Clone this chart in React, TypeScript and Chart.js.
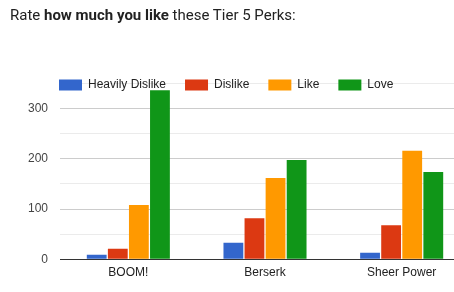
import React, { useEffect, useRef } from "react";
import { Chart, registerables } from "chart.js";

Chart.register(...registerables);

const categories = ["BOOM!", "Berserk", "Sheer Power"];
const seriesNames = ["Heavily Dislike", "Dislike", "Like", "Love"];
const heavilyDislike = [9, 33, 13];
const dislike = [21, 82, 68];
const like = [108, 162, 216];
const love = [337, 198, 174];
const seriesColors = ["#3366cc", "#dc3912", "#ff9900", "#109618"];
const yMax = 350;
const yStep = 50;
const labelStep = 100;

const FONT_FAMILY = "Arial, 'Liberation Sans', sans-serif";

const legendPlugin = {
  id: "gLegend",
  afterDraw(chart: any, _args: any, opts: any) {
    const ctx = chart.ctx;
    ctx.save();
    ctx.font = `12px ${FONT_FAMILY}`;
    ctx.textBaseline = "middle";
    ctx.textAlign = "left";
    let x = opts.x;
    const y = opts.y;
    chart.data.datasets.forEach((ds: any) => {
      ctx.fillStyle = ds.backgroundColor;
      ctx.fillRect(x, y - opts.boxH / 2, opts.boxW, opts.boxH);
      x += opts.boxW + opts.gap;
      ctx.fillStyle = opts.color;
      ctx.fillText(ds.label, x, y);
      x += ctx.measureText(ds.label).width + opts.spacing;
    });
    ctx.restore();
  },
};

export default function App() {
  const canvasRef = useRef<HTMLCanvasElement | null>(null);

  useEffect(() => {
    const canvas = canvasRef.current;
    if (!canvas) return;
    const seriesValues = [heavilyDislike, dislike, like, love];
    const chart = new Chart(canvas, {
      type: "bar",
      data: {
        labels: categories,
        datasets: seriesNames.map((name, i) => ({
          label: name,
          data: seriesValues[i],
          backgroundColor: seriesColors[i],
          borderWidth: 0,
          categoryPercentage: 0.617,
          barPercentage: 0.94,
        })),
      },
      options: {
        responsive: false,
        animation: false,
        devicePixelRatio: 1,
        layout: { padding: { top: 83.6, bottom: 12.7, left: 0, right: 0 } },
        plugins: {
          legend: { display: false },
          title: { display: false },
          tooltip: { enabled: false },
          gLegend: { x: 59, y: 85, boxW: 23, boxH: 11, gap: 6, spacing: 19, color: "#222222" },
        } as any,
        scales: {
          x: {
            afterFit: (s: any) => {
              s.height = 20;
            },
            grid: { display: false, drawTicks: false },
            border: { display: false },
            ticks: {
              font: { family: FONT_FAMILY, size: 12 },
              color: "#222222",
              padding: 6,
              maxRotation: 0,
            },
          },
          y: {
            min: 0,
            max: yMax,
            afterFit: (s: any) => {
              s.width = 60;
            },
            border: { display: false },
            grid: {
              drawTicks: false,
              lineWidth: 1,
              color: (c: any) => {
                const v = c.tick ? c.tick.value : 0;
                if (v === 0) return "#333333";
                return v % labelStep === 0 ? "#cccccc" : "#ebebeb";
              },
            },
            ticks: {
              stepSize: yStep,
              autoSkip: false,
              padding: 12,
              font: { family: FONT_FAMILY, size: 12 },
              color: "#444444",
              callback: (v: any) => (Number(v) % labelStep === 0 ? String(v) : ""),
            },
          },
        },
      },
      plugins: [legendPlugin],
    });
    return () => chart.destroy();
  }, []);

  return (
    <div
      style={{
        position: "fixed",
        left: 0,
        top: 0,
        width: 454,
        height: 292,
        overflow: "hidden",
        background: "#ffffff",
      }}
    >
      <canvas
        ref={canvasRef}
        width={470}
        height={292}
        style={{ position: "absolute", left: 0, top: 0, width: 470, height: 292 }}
      />
      <div
        style={{
          position: "absolute",
          left: 10,
          top: 7,
          fontFamily: "Roboto, sans-serif",
          fontSize: 15,
          lineHeight: "17px",
          color: "#222222",
          whiteSpace: "nowrap",
        }}
      >
        Rate <b>how much you like</b> these Tier 5 Perks:
      </div>
    </div>
  );
}
